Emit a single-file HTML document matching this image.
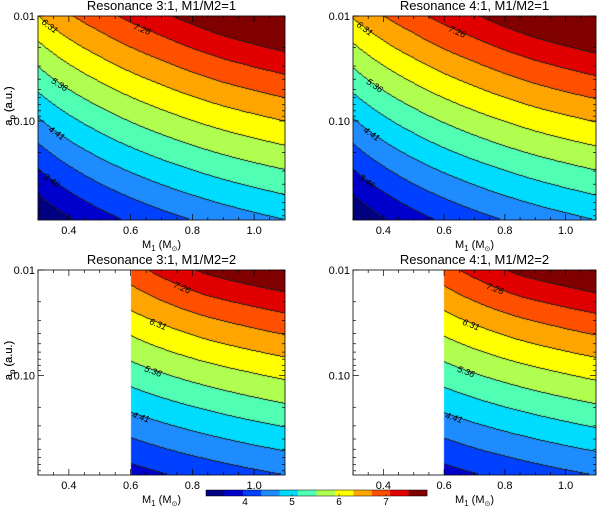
<!DOCTYPE html>
<html><head><meta charset="utf-8"><style>
html,body{margin:0;padding:0;background:#fff;}
#wrap{position:relative;width:600px;height:507px;overflow:hidden;}
canvas,svg{position:absolute;left:0;top:0;}
text{font-family:"Liberation Sans",sans-serif;fill:#000;}
</style></head><body>
<div id="wrap">
<canvas id="cv" width="600" height="507"></canvas>
<svg id="sv" width="600" height="507"></svg>
</div>
<script>
// ---- data ----
const levelLabels = [3.46, 4.41, 5.36, 6.31, 7.26];
const levelStep = 0.475;
const levelBase = 3.46; // boundary index 2
const colors = ['#000080','#0000cd','#0040ff','#1e8cff','#00dcff','#50ffb4','#b0ff50','#ffff00','#ffa500','#ff5000','#e00000','#800000'];
const xTicks = [0.4, 0.6, 0.8, 1.0];
const yTickLabels = ['0.01', '0.10'];
const logARows = [-2, -1.514, -1.029, -0.543, -0.057];
// top panels (M1/M2=1)
const topM = [0.3, 0.5, 0.7, 0.9, 1.1];
const topVals31 = [
 [6.31, 7.08, 7.65, 8.15, 8.50],
 [5.36, 6.12, 6.66, 7.10, 7.42],
 [4.41, 5.16, 5.68, 6.08, 6.38],
 [3.46, 4.21, 4.71, 5.09, 5.38],
 [2.51, 3.26, 3.75, 4.12, 4.41]];
const topVals41 = [
 [6.36, 7.12, 7.70, 8.20, 8.55],
 [5.38, 6.15, 6.69, 7.13, 7.45],
 [4.42, 5.18, 5.70, 6.10, 6.40],
 [3.47, 4.22, 4.72, 5.10, 5.39],
 [2.52, 3.27, 3.76, 4.13, 4.42]];
// bottom panels (M1/M2=2)
const botM = [0.6, 0.85, 1.1];
const botVals31 = [
 [7.07, 7.85, 8.25],
 [6.11, 6.70, 7.08],
 [5.16, 5.64, 5.99],
 [4.20, 4.63, 4.96],
 [3.25, 3.64, 3.94]];
const botVals41 = [
 [7.09, 7.87, 8.27],
 [6.12, 6.71, 7.09],
 [5.17, 5.65, 6.00],
 [4.21, 4.64, 4.97],
 [3.26, 3.65, 3.95]];
const cbTicks = [4, 5, 6, 7];

const panels = [
 {id:'tl', title:'Resonance 3:1, M1/M2=1', x0:38,x1:285,y0:16,y1:220, M:topM, V:topVals31,
  labs:[[6.31,10],[5.36,20],[4.41,17],[3.46,12],[7.26,103]]},
 {id:'tr', title:'Resonance 4:1, M1/M2=1', x0:353,x1:596,y0:16,y1:220, M:topM, V:topVals41,
  labs:[[6.31,10],[5.36,20],[4.41,17],[3.46,12],[7.26,103]]},
 {id:'bl', title:'Resonance 3:1, M1/M2=2', x0:38,x1:285,y0:270,y1:475, M:botM, V:botVals31,
  labs:[[7.26,143],[6.31,119],[5.36,114],[4.41,102]]},
 {id:'br', title:'Resonance 4:1, M1/M2=2', x0:353,x1:596,y0:270,y1:475, M:botM, V:botVals41,
  labs:[[7.26,141],[6.31,117],[5.36,112],[4.41,100]]}
];

function xScale(p,M){return p.x0+(M-0.3)/0.8*(p.x1-p.x0);}
function yScale(p,la){return p.y0+(la+2)/1.943*(p.y1-p.y0);}
function fieldAt(p,M,la){
 const Ms=p.M; if(M<Ms[0]-1e-9) return null;
 let i=0; while(i<Ms.length-2 && M>Ms[i+1]) i++;
 let fx=(Math.log(M)-Math.log(Ms[i]))/(Math.log(Ms[i+1])-Math.log(Ms[i]));
 let j=0; while(j<logARows.length-2 && la>logARows[j+1]) j++;
 let fy=(la-logARows[j])/(logARows[j+1]-logARows[j]);
 const V=p.V;
 const a=V[j][i]*(1-fx)+V[j][i+1]*fx, b=V[j+1][i]*(1-fx)+V[j+1][i+1]*fx;
 return a*(1-fy)+b*fy;
}
function levelIdx(v){let k=Math.floor((v-levelBase)/levelStep)+2; return Math.max(0,Math.min(colors.length-1,k));}
function hex(c){return [parseInt(c.substr(1,2),16),parseInt(c.substr(3,2),16),parseInt(c.substr(5,2),16)];}
const rgb=colors.map(hex);

const cv=document.getElementById('cv'), ctx=cv.getContext('2d');
const img=ctx.createImageData(600,507);
for(let i=0;i<img.data.length;i++) img.data[i]=255;
panels.forEach(p=>{
 const W=p.x1-p.x0, H=p.y1-p.y0;
 const idx=[];
 for(let y=0;y<H;y++){idx.push([]);for(let x=0;x<W;x++){
  const M=0.3+(x+0.5)/W*0.8, la=-2+(y+0.5)/H*1.943;
  const v=fieldAt(p,M,la); idx[y].push(v===null?-1:levelIdx(v));}}
 for(let y=0;y<H;y++)for(let x=0;x<W;x++){
  const k=idx[y][x]; if(k<0) continue;
  let c=rgb[k];
  const d=y+1<H?idx[y+1][x]:k;
  if(d>=0&&d!==k) c=[30,30,30];
  const o=((p.y0+y)*600+p.x0+x)*4;
  img.data[o]=c[0];img.data[o+1]=c[1];img.data[o+2]=c[2];img.data[o+3]=255;}
});
ctx.putImageData(img,0,0);

// ---- axes ----
const NS='http://www.w3.org/2000/svg', sv=document.getElementById('sv');
function mk(tag,attrs,parent){const e=document.createElementNS(NS,tag);for(const k in attrs)e.setAttribute(k,attrs[k]);(parent||sv).appendChild(e);return e;}
panels.forEach(p=>{
 const g=mk('g',{});
 
 
 const fr=mk('rect',{x:p.x0,y:p.y0,width:p.x1-p.x0,height:p.y1-p.y0,fill:'none',stroke:'#000','stroke-width':0.8},g);
 
 
 const t=mk('text',{x:(p.x0+p.x1)/2,y:p.y0-6,'text-anchor':'middle','font-size':13},g);
 t.textContent=p.title;
 
 
 for(let m=0.3;m<=1.1001;m+=0.05){
  const major=xTicks.some(v=>Math.abs(v-m)<1e-6), L=major?6:3, x=xScale(p,m);
  mk('line',{x1:x,x2:x,y1:p.y1,y2:p.y1-L,stroke:'#000','stroke-width':0.7},g);
  mk('line',{x1:x,x2:x,y1:p.y0,y2:p.y0+L,stroke:'#000','stroke-width':0.7},g);
 }
 xTicks.forEach(v=>{const tl=mk('text',{x:xScale(p,v),y:p.y1+14,'text-anchor':'middle','font-size':11},g);tl.textContent=v.toFixed(1);
  
  });
 [0.01,0.02,0.03,0.04,0.05,0.06,0.07,0.08,0.09,0.1,0.2,0.3,0.4,0.5,0.6,0.7,0.8].forEach(a=>{
  const major=(a===0.01||a===0.1), L=major?6:3, y=yScale(p,Math.log10(a));
  mk('line',{x1:p.x0,x2:p.x0+L,y1:y,y2:y,stroke:'#000','stroke-width':0.7},g);
  mk('line',{x1:p.x1,x2:p.x1-L,y1:y,y2:y,stroke:'#000','stroke-width':0.7},g);
 });
 yTickLabels.forEach((s,i)=>{const tl=mk('text',{x:p.x0-3,y:yScale(p,i-2)+4,'text-anchor':'end','font-size':11},g);tl.textContent=s;
  
  });
 const xt=mk('text',{x:(p.x0+p.x1)/2,y:p.y1+28,'text-anchor':'middle','font-size':11},g);
 xt.innerHTML='M<tspan font-size="8" dy="3">1</tspan><tspan dy="-3"> (M</tspan><tspan font-size="7" dy="3">⊙</tspan><tspan dy="-3">)</tspan>';
 
 
 const cy=(p.y0+p.y1)/2-12;
 const yt=mk('text',{x:0,y:0,'text-anchor':'middle','font-size':11,transform:'translate(12,'+cy+') rotate(-90)'},g);
 yt.innerHTML='a<tspan font-size="8" dy="3">p</tspan><tspan dy="-3"> (a.u.)</tspan>';
 
 
 const W=p.x1-p.x0,H=p.y1-p.y0;
 function yFor(val,px){const M=0.3+(px-p.x0)/W*0.8;for(let y=p.y0;y<=p.y1;y+=0.5){const v=fieldAt(p,M,-2+(y-p.y0)/H*1.943);if(v!==null&&v<=val)return y;}return null;}
 p.labs.forEach(([val,dx])=>{
  const px=p.x0+dx, y=yFor(val,px), y2=yFor(val,px+8);
  if(y===null) return;
  const ang=y2!==null?Math.atan2(y2-y,8)*180/Math.PI:0;
  const lt=mk('text',{x:0,y:0,'font-size':9,'font-style':'italic','text-anchor':'middle',transform:'translate('+px+','+(y+4)+') rotate('+ang.toFixed(1)+')'},g);
  lt.textContent=val.toFixed(2);
  
  
 });
});
const cb=mk('g',{});


const cbx0=206,cbx1=427,cby=490,cbh=6, vmin=3.17, vmax=7.87;
colors.forEach((c,i)=>{const w=(cbx1-cbx0)/colors.length;const r=mk('rect',{x:cbx0+i*w,y:cby,width:w+0.3,height:cbh,fill:c},cb);
 
 });
mk('rect',{x:cbx0,y:cby,width:cbx1-cbx0,height:cbh,fill:'none',stroke:'#000','stroke-width':0.5},cb);
cbTicks.forEach(v=>{const x=cbx0+(v-vmin)/(vmax-vmin)*(cbx1-cbx0);
 mk('line',{x1:x,x2:x,y1:cby+cbh,y2:cby+cbh-2,stroke:'#000','stroke-width':0.5},cb);
 const tl=mk('text',{x:x,y:505,'text-anchor':'middle','font-size':10},cb);tl.textContent=v;
 
 });
</script>
</body></html>
